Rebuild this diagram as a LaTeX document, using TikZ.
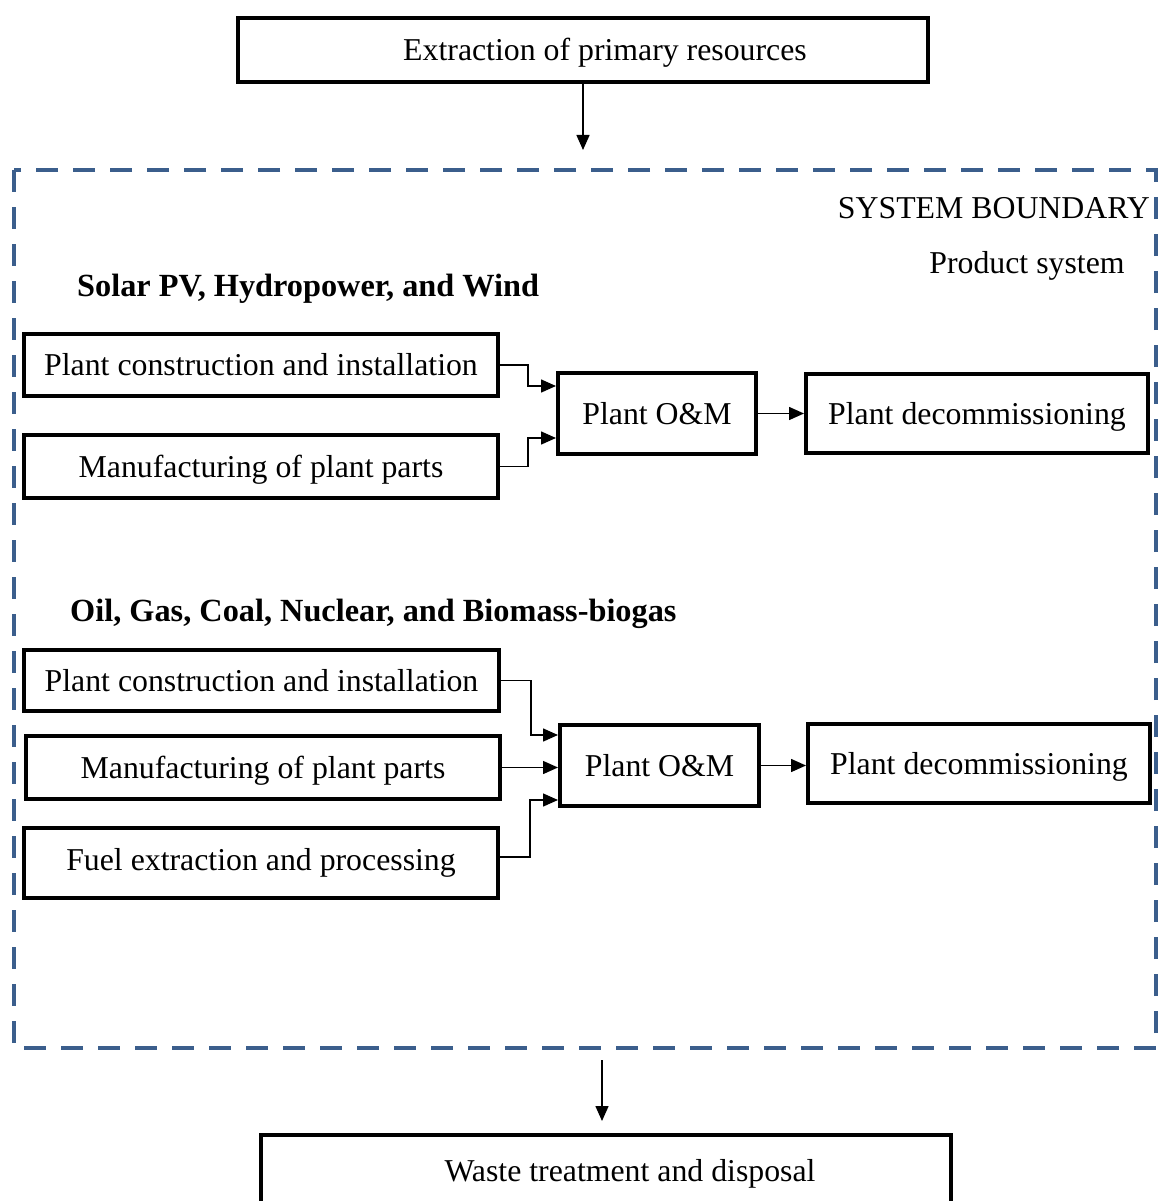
\documentclass[tikz,border=0pt]{standalone}
\usepackage{fontspec}
\setmainfont{Liberation Serif}
\usetikzlibrary{arrows.meta}
\definecolor{bnd}{RGB}{59,94,140}
\begin{document}
\begin{tikzpicture}[x=1pt,y=-1pt,
  box/.style={draw, line width=4pt, rectangle, inner sep=0pt, font=\fontsize{31.8}{38}\selectfont, text height=21.6pt, text depth=0pt},
  txt/.style={inner sep=0pt, font=\fontsize{31.8}{38}\selectfont},
  ctxt/.style={txt, text height=21.6pt, text depth=0pt},
  head/.style={inner sep=0pt, anchor=base west, font=\fontsize{32.3}{38}\selectfont\bfseries},
  conn/.style={line width=1.5pt, -{Triangle[length=15pt,width=13pt]}},
  ]
\useasboundingbox (0,0) rectangle (1159,1201);
\clip (0,0) rectangle (1159,1201);
% boundary
\draw[bnd, line width=4pt, dash pattern=on 22pt off 15pt] (14,170) rectangle (1156,1048);
\node[txt, anchor=base east] (sb) at (1150,218) {SYSTEM BOUNDARY};
\node[txt, anchor=base] (ps) at (1027,273) {Product system};
\node[head] (hA) at (77,296) {Solar PV, Hydropower, and Wind};
\node[head] (hB) at (70,621) {Oil, Gas, Coal, Nuclear, and Biomass-biogas};
% top and bottom
\node[box, minimum width=690pt, minimum height=64pt] (top) at (583,50) {};
\node[ctxt] (topt) at (605,50) {Extraction of primary resources};
\node[box, minimum width=690pt, minimum height=80pt] (bot) at (606,1175) {};
\node[ctxt] (bott) at (630,1171) {Waste treatment and disposal};
% group A
\node[box, minimum width=474pt, minimum height=62pt] (A1) at (261,365) {Plant construction and installation};
\node[box, minimum width=474pt, minimum height=63pt] (A2) at (261,466.5) {Manufacturing of plant parts};
\node[box, minimum width=198pt, minimum height=81pt] (OMA) at (657,413.5) {Plant O\&M};
\node[box, minimum width=342pt, minimum height=79pt] (DA) at (977,413.5) {Plant decommissioning};
% group B
\node[box, minimum width=475pt, minimum height=61pt] (B1) at (261.5,680.5) {Plant construction and installation};
\node[box, minimum width=474pt, minimum height=63pt] (B2) at (263,767.5) {Manufacturing of plant parts};
\node[box, minimum width=474pt, minimum height=70pt, text height=, text depth=] (B3) at (261,863) {Fuel extraction and processing};
\node[box, minimum width=199pt, minimum height=81pt] (OMB) at (659.5,765.5) {Plant O\&M};
\node[box, minimum width=342pt, minimum height=79pt] (DB) at (979,763.5) {Plant decommissioning};
% connectors
\coordinate (inTop) at (584,150);
\draw[conn] (top.south) -- (top.south |- inTop);
\coordinate (outB) at (602,1060);
\draw[conn] (outB) -- ([yshift=12pt]outB |- bot.north);
\draw[conn] (A1.east) -- ++(28,0) |- ([yshift=27.5pt]OMA.west);
\draw[conn] (A2.east) -- ++(28,0) |- ([yshift=-24.5pt]OMA.west);
\draw[conn] (OMA.east) -- (OMA.east -| DA.west);
\draw[conn] (B1.east) -- ++(30,0) |- ([yshift=30.5pt]OMB.west);
\draw[conn] (B2.east) -- (B2.east -| OMB.west);
\draw[conn] ([yshift=6pt]B3.east) -- ++(30,0) |- ([yshift=-34.5pt]OMB.west);
\draw[conn] (OMB.east) -- (OMB.east -| DB.west);
\end{tikzpicture}
\end{document}
